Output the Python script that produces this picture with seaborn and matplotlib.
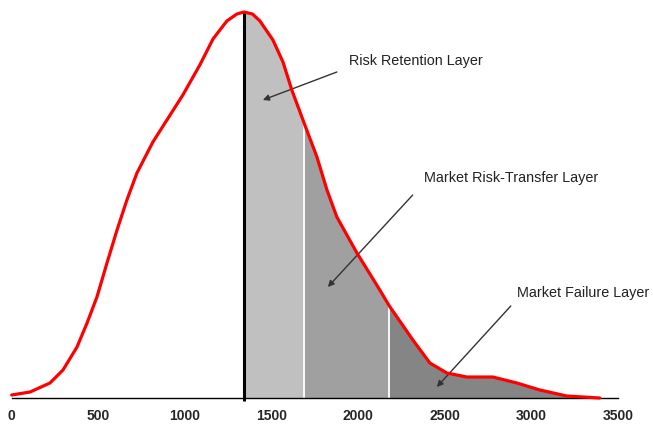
import numpy as np
import pandas as pd
import matplotlib
matplotlib.use("Agg")
import matplotlib.pyplot as plt
import seaborn as sns

# loss values (x) and density heights (arbitrary units)
loss = [0, 106, 221, 296, 377, 435, 492, 550, 608, 665, 723, 815, 896, 988,
        1086, 1162, 1242, 1300, 1340, 1390, 1433, 1508, 1566, 1617, 1690, 1762,
        1820, 1877, 1993, 2125, 2180, 2316, 2414, 2512, 2627, 2777, 2916, 3049,
        3204, 3300, 3395]
density = [3, 6, 15, 28, 51, 75, 101, 135, 168, 198, 225, 256, 278, 303,
           333, 359, 377, 384, 386, 384, 377, 358, 336, 308, 274, 241,
           208, 181, 145, 108, 92, 58, 35, 25, 21, 21, 15, 8,
           2, 1, 0]

# layer boundaries
retention = 1340
retention_end = 1690
transfer_end = 2180
layer_colors = ["#c0c0c0", "#a0a0a0", "#858585"]

labels = ["Risk Retention Layer", "Market Risk-Transfer Layer", "Market Failure Layer"]
label_pos = [(1946, 337), (2379, 220), (2916, 105)]
arrow_tail = [(1877, 326), (2315, 203), (2881, 92)]
arrow_head = [(1450, 298), (1825, 111), (2454, 11)]

xticks = [0, 500, 1000, 1500, 2000, 2500, 3000, 3500]

df = pd.DataFrame({"loss": loss, "density": density})

sns.set_style("white")
plt.rcParams["font.family"] = ["Liberation Sans", "DejaVu Sans"]

fig = plt.figure(figsize=(6.53, 4.24), dpi=100)
ax = fig.add_axes([11.7 / 653, 26 / 424, 606.3 / 653, 386 / 424])

x = df["loss"].to_numpy()
y = df["density"].to_numpy()

# shaded layers
bounds = [retention, retention_end, transfer_end, x.max()]
for i, c in enumerate(layer_colors):
    m = (x >= bounds[i]) & (x <= bounds[i + 1])
    ax.fill_between(x[m], 0, y[m], color=c, lw=0, zorder=1)

# white separators between layers
for b in [retention_end, transfer_end]:
    h = df.loc[df["loss"] == b, "density"].iloc[0]
    ax.plot([b, b], [0, h], color="white", lw=1.3, zorder=2)

sns.lineplot(data=df, x="loss", y="density", color="red", lw=2.3, ax=ax,
             zorder=4, clip_on=False, solid_joinstyle="round")

# retention level
hr = df.loc[df["loss"] == retention, "density"].iloc[0]
ax.plot([retention, retention], [-3, hr], color="black", lw=2.2, zorder=3,
        clip_on=False, solid_capstyle="butt")

for lab, pos, tail, head in zip(labels, label_pos, arrow_tail, arrow_head):
    ax.text(pos[0], pos[1], lab, fontsize=10.4, color="#222222", va="center", ha="left")
    ax.annotate("", xy=head, xytext=tail,
                arrowprops=dict(arrowstyle="-|>", color="#333333", lw=1.0,
                                mutation_scale=9, shrinkA=0, shrinkB=0))

ax.set_xlim(0, 3500)
ax.set_ylim(0, 386)
ax.set_xticks(xticks)
ax.set_xticklabels([str(t) for t in xticks], fontsize=10, fontweight="bold")
ax.set_yticks([])
ax.set_xlabel("")
ax.set_ylabel("")
for s in ["top", "right", "left"]:
    ax.spines[s].set_visible(False)
ax.spines["bottom"].set_color("black")
ax.spines["bottom"].set_linewidth(1.0)
ax.tick_params(axis="x", direction="out", length=3, width=1, color="black", pad=5)

fig.savefig("out.png", dpi=100)
